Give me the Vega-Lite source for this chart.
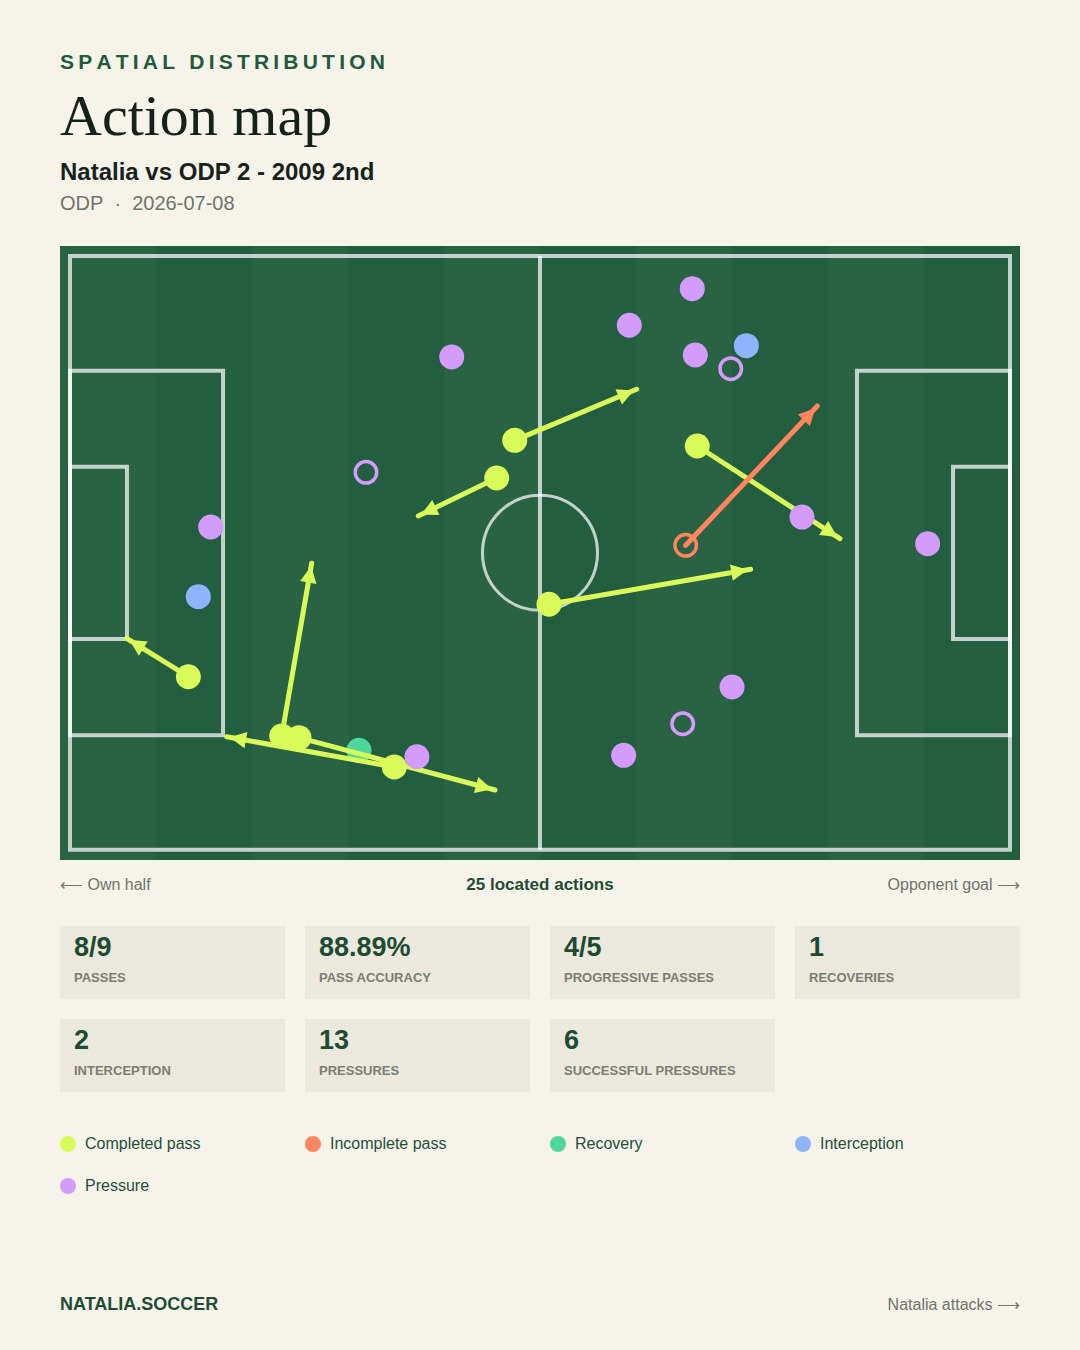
{
  "$schema": "https://vega.github.io/schema/vega-lite/v6.json",
  "background": "#f6f3eb",
  "padding": {"left": 60, "right": 60, "top": 52, "bottom": 0},
  "spacing": 0,
  "config": {"view": {"stroke": null}, "font": "Liberation Sans"},
  "title": {
    "text": "S\u2009P\u2009A\u2009T\u2009I\u2009A\u2009L\u2009 \u2009D\u2009I\u2009S\u2009T\u2009R\u2009I\u2009B\u2009U\u2009T\u2009I\u2009O\u2009N",
    "subtitle": "Action map",
    "anchor": "start",
    "frame": "group",
    "offset": 14,
    "font": "Liberation Sans",
    "fontSize": 21,
    "fontWeight": "bold",
    "color": "#1f5a3a",
    "subtitleFont": "Liberation Serif",
    "subtitleFontSize": 58,
    "subtitleFontWeight": "normal",
    "subtitleColor": "#15221a",
    "subtitlePadding": 16
  },
  "datasets": {
    "actions": [
      {"type": "Recovery", "x": 30.74, "y": 52.59, "open": false},
      {"type": "Completed pass", "x": 47.31, "y": 19.61, "x_end": 60.29, "y_end": 14.18, "angle": 67.3, "open": false},
      {"type": "Completed pass", "x": 45.39, "y": 23.62, "x_end": 37.05, "y_end": 27.66, "angle": 244.1, "open": false},
      {"type": "Completed pass", "x": 66.73, "y": 20.21, "x_end": 81.91, "y_end": 30.07, "angle": 123.0, "open": false},
      {"type": "Completed pass", "x": 50.96, "y": 37.05, "x_end": 72.41, "y_end": 33.33, "angle": 80.2, "open": false},
      {"type": "Completed pass", "x": 12.59, "y": 44.76, "x_end": 6.03, "y_end": 40.67, "angle": 301.9, "open": false},
      {"type": "Completed pass", "x": 22.52, "y": 51.06, "x_end": 25.71, "y_end": 32.69, "angle": 9.9, "open": false},
      {"type": "Completed pass", "x": 24.36, "y": 51.24, "x_end": 45.21, "y_end": 56.81, "angle": 104.9, "open": false},
      {"type": "Completed pass", "x": 34.5, "y": 54.36, "x_end": 16.67, "y_end": 51.14, "angle": 280.2, "open": false},
      {"type": "Incomplete pass", "x": 65.5, "y": 30.78, "x_end": 79.5, "y_end": 15.96, "angle": 43.4, "open": true},
      {"type": "Interception", "x": 71.95, "y": 9.54, "open": false},
      {"type": "Interception", "x": 13.65, "y": 36.24, "open": false},
      {"type": "Pressure", "x": 66.2, "y": 3.48, "open": false},
      {"type": "Pressure", "x": 59.5, "y": 7.37, "open": false},
      {"type": "Pressure", "x": 66.52, "y": 10.53, "open": false},
      {"type": "Pressure", "x": 40.61, "y": 10.74, "open": false},
      {"type": "Pressure", "x": 14.97, "y": 28.83, "open": false},
      {"type": "Pressure", "x": 77.87, "y": 27.77, "open": false},
      {"type": "Pressure", "x": 91.24, "y": 30.61, "open": false},
      {"type": "Pressure", "x": 70.43, "y": 45.85, "open": false},
      {"type": "Pressure", "x": 58.9, "y": 53.12, "open": false},
      {"type": "Pressure", "x": 36.91, "y": 53.27, "open": false},
      {"type": "Pressure", "x": 70.29, "y": 11.99, "open": true},
      {"type": "Pressure", "x": 31.49, "y": 23.01, "open": true},
      {"type": "Pressure", "x": 65.18, "y": 49.76, "open": true}
    ],
    "stats": [
      {"value": "8/9", "label": "PASSES"},
      {"value": "88.89%", "label": "PASS ACCURACY"},
      {"value": "4/5", "label": "PROGRESSIVE PASSES"},
      {"value": "1", "label": "RECOVERIES"},
      {"value": "2", "label": "INTERCEPTION"},
      {"value": "13", "label": "PRESSURES"},
      {"value": "6", "label": "SUCCESSFUL PRESSURES"}
    ],
    "legend": [
      {"label": "Completed pass"},
      {"label": "Incomplete pass"},
      {"label": "Recovery"},
      {"label": "Interception"},
      {"label": "Pressure"}
    ]
  },
  "vconcat": [
    {
      "width": 960,
      "height": 614,
      "title": {
        "text": "Natalia vs ODP 2 - 2009 2nd",
        "subtitle": "ODP\u00a0\u00a0·\u00a0\u00a02026-07-08",
        "anchor": "start",
        "frame": "group",
        "offset": 32,
        "font": "Liberation Sans",
        "fontSize": 24,
        "fontWeight": "bold",
        "color": "#17231b",
        "subtitleFont": "Liberation Sans",
        "subtitleFontSize": 20,
        "subtitleColor": "#6f756b",
        "subtitlePadding": 9
      },
      "layer": [
        {
          "data": {"values": [
            {"stripe": 1, "tone": "light"}, {"stripe": 2, "tone": "dark"},
            {"stripe": 3, "tone": "light"}, {"stripe": 4, "tone": "dark"},
            {"stripe": 5, "tone": "light"}, {"stripe": 6, "tone": "dark"},
            {"stripe": 7, "tone": "light"}, {"stripe": 8, "tone": "dark"},
            {"stripe": 9, "tone": "light"}, {"stripe": 10, "tone": "dark"}
          ]},
          "mark": {"type": "rect"},
          "encoding": {
            "x": {"field": "stripe", "type": "ordinal", "scale": {"type": "band", "paddingInner": 0, "paddingOuter": 0}, "axis": null},
            "color": {"field": "tone", "type": "nominal", "scale": {"domain": ["light", "dark"], "range": ["#2a6344", "#245e40"]}, "legend": null}
          }
        },
        {
          "layer": [
            {
              "data": {"values": [
                {"x0": 0, "x1": 100, "y0": 0, "y1": 63.16},
                {"x0": 0, "x1": 16.28, "y0": 12.2, "y1": 50.99},
                {"x0": 0, "x1": 6.06, "y0": 22.41, "y1": 40.74},
                {"x0": 83.72, "x1": 100, "y0": 12.2, "y1": 50.99},
                {"x0": 93.94, "x1": 100, "y0": 22.41, "y1": 40.74}
              ]},
              "mark": {"type": "rect", "filled": false, "stroke": "#ffffff", "strokeOpacity": 0.72, "strokeWidth": 4},
              "encoding": {
                "x": {"field": "x0", "type": "quantitative", "scale": {"domain": [-1.0638, 101.0638], "nice": false, "zero": false}, "axis": null},
                "x2": {"field": "x1"},
                "y": {"field": "y0", "type": "quantitative", "scale": {"domain": [-1.0638, 64.2553], "nice": false, "zero": false, "reverse": true}, "axis": null},
                "y2": {"field": "y1"}
              }
            },
            {
              "data": {"values": [{"x": 50, "y0": 0, "y1": 63.16}]},
              "mark": {"type": "rule", "stroke": "#ffffff", "strokeOpacity": 0.72, "strokeWidth": 4},
              "encoding": {
                "x": {"field": "x", "type": "quantitative", "scale": {"domain": [-1.0638, 101.0638], "nice": false, "zero": false}, "axis": null},
                "y": {"field": "y0", "type": "quantitative", "scale": {"domain": [-1.0638, 64.2553], "nice": false, "zero": false, "reverse": true}, "axis": null},
                "y2": {"field": "y1"}
              }
            },
            {
              "data": {"values": [{"x": 50, "y": 31.58}]},
              "mark": {"type": "point", "shape": "circle", "filled": false, "size": 13225, "stroke": "#ffffff", "strokeOpacity": 0.72, "strokeWidth": 3, "opacity": 1},
              "encoding": {
                "x": {"field": "x", "type": "quantitative", "scale": {"domain": [-1.0638, 101.0638], "nice": false, "zero": false}, "axis": null},
                "y": {"field": "y", "type": "quantitative", "scale": {"domain": [-1.0638, 64.2553], "nice": false, "zero": false, "reverse": true}, "axis": null}
              }
            },
            {
              "data": {"name": "actions"},
              "transform": [{"filter": "datum.type == 'Recovery'"}],
              "mark": {"type": "point", "shape": "circle", "filled": true, "size": 625, "opacity": 1},
              "encoding": {
                "x": {"field": "x", "type": "quantitative", "scale": {"domain": [-1.0638, 101.0638], "nice": false, "zero": false}, "axis": null},
                "y": {"field": "y", "type": "quantitative", "scale": {"domain": [-1.0638, 64.2553], "nice": false, "zero": false, "reverse": true}, "axis": null},
                "color": {"field": "type", "type": "nominal", "scale": {"domain": ["Completed pass", "Incomplete pass", "Recovery", "Interception", "Pressure"], "range": ["#d8fb5a", "#ff845f", "#4fd59e", "#8db4fd", "#d39bfa"]}, "legend": null}
              }
            },
            {
              "data": {"name": "actions"},
              "transform": [{"filter": "datum.x_end != null"}],
              "mark": {"type": "rule", "strokeWidth": 5, "strokeCap": "round"},
              "encoding": {
                "x": {"field": "x", "type": "quantitative", "scale": {"domain": [-1.0638, 101.0638], "nice": false, "zero": false}, "axis": null},
                "y": {"field": "y", "type": "quantitative", "scale": {"domain": [-1.0638, 64.2553], "nice": false, "zero": false, "reverse": true}, "axis": null},
                "x2": {"field": "x_end"},
                "y2": {"field": "y_end"},
                "color": {"field": "type", "type": "nominal", "scale": {"domain": ["Completed pass", "Incomplete pass", "Recovery", "Interception", "Pressure"], "range": ["#d8fb5a", "#ff845f", "#4fd59e", "#8db4fd", "#d39bfa"]}, "legend": null}
              }
            },
            {
              "data": {"name": "actions"},
              "transform": [{"filter": "datum.x_end != null"}],
              "mark": {"type": "point", "shape": "M0,0.5L1.4,3.3L-1.4,3.3Z", "filled": true, "size": 140, "opacity": 1},
              "encoding": {
                "x": {"field": "x_end", "type": "quantitative", "scale": {"domain": [-1.0638, 101.0638], "nice": false, "zero": false}, "axis": null},
                "y": {"field": "y_end", "type": "quantitative", "scale": {"domain": [-1.0638, 64.2553], "nice": false, "zero": false, "reverse": true}, "axis": null},
                "angle": {"field": "angle", "type": "quantitative", "scale": {"domain": [0, 360], "range": [0, 360]}},
                "color": {"field": "type", "type": "nominal", "scale": {"domain": ["Completed pass", "Incomplete pass", "Recovery", "Interception", "Pressure"], "range": ["#d8fb5a", "#ff845f", "#4fd59e", "#8db4fd", "#d39bfa"]}, "legend": null}
              }
            },
            {
              "data": {"name": "actions"},
              "transform": [{"filter": "!datum.open && datum.type != 'Recovery'"}],
              "mark": {"type": "point", "shape": "circle", "filled": true, "size": 625, "opacity": 1},
              "encoding": {
                "x": {"field": "x", "type": "quantitative", "scale": {"domain": [-1.0638, 101.0638], "nice": false, "zero": false}, "axis": null},
                "y": {"field": "y", "type": "quantitative", "scale": {"domain": [-1.0638, 64.2553], "nice": false, "zero": false, "reverse": true}, "axis": null},
                "color": {"field": "type", "type": "nominal", "scale": {"domain": ["Completed pass", "Incomplete pass", "Recovery", "Interception", "Pressure"], "range": ["#d8fb5a", "#ff845f", "#4fd59e", "#8db4fd", "#d39bfa"]}, "legend": null}
              }
            },
            {
              "data": {"name": "actions"},
              "transform": [{"filter": "datum.open"}],
              "mark": {"type": "point", "shape": "circle", "filled": false, "size": 462, "strokeWidth": 3.5, "opacity": 1},
              "encoding": {
                "x": {"field": "x", "type": "quantitative", "scale": {"domain": [-1.0638, 101.0638], "nice": false, "zero": false}, "axis": null},
                "y": {"field": "y", "type": "quantitative", "scale": {"domain": [-1.0638, 64.2553], "nice": false, "zero": false, "reverse": true}, "axis": null},
                "color": {"field": "type", "type": "nominal", "scale": {"domain": ["Completed pass", "Incomplete pass", "Recovery", "Interception", "Pressure"], "range": ["#d8fb5a", "#ff845f", "#4fd59e", "#8db4fd", "#d39bfa"]}, "legend": null}
              }
            }
          ]
        }
      ],
      "resolve": {"scale": {"x": "independent", "color": "independent"}}
    },
    {
      "width": 960,
      "height": 66,
      "data": {"values": [
        {"text": "⟵ Own half", "pos": "left"},
        {"text": "25 located actions", "pos": "center"},
        {"text": "Opponent goal ⟶", "pos": "right"}
      ]},
      "layer": [
        {
          "transform": [{"filter": "datum.pos == 'left'"}],
          "mark": {"type": "text", "align": "left", "baseline": "middle", "dy": -8, "fontSize": 16, "color": "#6f756b"},
          "encoding": {"x": {"value": 0}, "text": {"field": "text"}}
        },
        {
          "transform": [{"filter": "datum.pos == 'center'"}],
          "mark": {"type": "text", "align": "center", "baseline": "middle", "dy": -8, "fontSize": 17, "fontWeight": "bold", "color": "#1f4d33"},
          "encoding": {"text": {"field": "text"}}
        },
        {
          "transform": [{"filter": "datum.pos == 'right'"}],
          "mark": {"type": "text", "align": "right", "baseline": "middle", "dy": -8, "fontSize": 16, "color": "#6f756b"},
          "encoding": {"x": {"value": "width"}, "text": {"field": "text"}}
        }
      ]
    },
    {
      "spacing": 41,
      "vconcat": [
        {
          "data": {"name": "stats"},
          "columns": 4,
          "spacing": 20,
          "concat": [
            {"width": 225, "height": 73, "view": {"fill": "#ebe8dd", "stroke": null}, "transform": [{"filter": "datum.label == 'PASSES'"}],
             "layer": [
              {"mark": {"type": "text", "align": "left", "baseline": "middle", "fontSize": 27, "fontWeight": "bold", "color": "#1e4b32"}, "encoding": {"x": {"value": 14}, "y": {"value": 22}, "text": {"field": "value"}}},
              {"mark": {"type": "text", "align": "left", "baseline": "middle", "fontSize": 13, "fontWeight": "bold", "color": "#7b7e74"}, "encoding": {"x": {"value": 14}, "y": {"value": 52}, "text": {"field": "label"}}}
             ]},
            {"width": 225, "height": 73, "view": {"fill": "#ebe8dd", "stroke": null}, "transform": [{"filter": "datum.label == 'PASS ACCURACY'"}],
             "layer": [
              {"mark": {"type": "text", "align": "left", "baseline": "middle", "fontSize": 27, "fontWeight": "bold", "color": "#1e4b32"}, "encoding": {"x": {"value": 14}, "y": {"value": 22}, "text": {"field": "value"}}},
              {"mark": {"type": "text", "align": "left", "baseline": "middle", "fontSize": 13, "fontWeight": "bold", "color": "#7b7e74"}, "encoding": {"x": {"value": 14}, "y": {"value": 52}, "text": {"field": "label"}}}
             ]},
            {"width": 225, "height": 73, "view": {"fill": "#ebe8dd", "stroke": null}, "transform": [{"filter": "datum.label == 'PROGRESSIVE PASSES'"}],
             "layer": [
              {"mark": {"type": "text", "align": "left", "baseline": "middle", "fontSize": 27, "fontWeight": "bold", "color": "#1e4b32"}, "encoding": {"x": {"value": 14}, "y": {"value": 22}, "text": {"field": "value"}}},
              {"mark": {"type": "text", "align": "left", "baseline": "middle", "fontSize": 13, "fontWeight": "bold", "color": "#7b7e74"}, "encoding": {"x": {"value": 14}, "y": {"value": 52}, "text": {"field": "label"}}}
             ]},
            {"width": 225, "height": 73, "view": {"fill": "#ebe8dd", "stroke": null}, "transform": [{"filter": "datum.label == 'RECOVERIES'"}],
             "layer": [
              {"mark": {"type": "text", "align": "left", "baseline": "middle", "fontSize": 27, "fontWeight": "bold", "color": "#1e4b32"}, "encoding": {"x": {"value": 14}, "y": {"value": 22}, "text": {"field": "value"}}},
              {"mark": {"type": "text", "align": "left", "baseline": "middle", "fontSize": 13, "fontWeight": "bold", "color": "#7b7e74"}, "encoding": {"x": {"value": 14}, "y": {"value": 52}, "text": {"field": "label"}}}
             ]},
            {"width": 225, "height": 73, "view": {"fill": "#ebe8dd", "stroke": null}, "transform": [{"filter": "datum.label == 'INTERCEPTION'"}],
             "layer": [
              {"mark": {"type": "text", "align": "left", "baseline": "middle", "fontSize": 27, "fontWeight": "bold", "color": "#1e4b32"}, "encoding": {"x": {"value": 14}, "y": {"value": 22}, "text": {"field": "value"}}},
              {"mark": {"type": "text", "align": "left", "baseline": "middle", "fontSize": 13, "fontWeight": "bold", "color": "#7b7e74"}, "encoding": {"x": {"value": 14}, "y": {"value": 52}, "text": {"field": "label"}}}
             ]},
            {"width": 225, "height": 73, "view": {"fill": "#ebe8dd", "stroke": null}, "transform": [{"filter": "datum.label == 'PRESSURES'"}],
             "layer": [
              {"mark": {"type": "text", "align": "left", "baseline": "middle", "fontSize": 27, "fontWeight": "bold", "color": "#1e4b32"}, "encoding": {"x": {"value": 14}, "y": {"value": 22}, "text": {"field": "value"}}},
              {"mark": {"type": "text", "align": "left", "baseline": "middle", "fontSize": 13, "fontWeight": "bold", "color": "#7b7e74"}, "encoding": {"x": {"value": 14}, "y": {"value": 52}, "text": {"field": "label"}}}
             ]},
            {"width": 225, "height": 73, "view": {"fill": "#ebe8dd", "stroke": null}, "transform": [{"filter": "datum.label == 'SUCCESSFUL PRESSURES'"}],
             "layer": [
              {"mark": {"type": "text", "align": "left", "baseline": "middle", "fontSize": 27, "fontWeight": "bold", "color": "#1e4b32"}, "encoding": {"x": {"value": 14}, "y": {"value": 22}, "text": {"field": "value"}}},
              {"mark": {"type": "text", "align": "left", "baseline": "middle", "fontSize": 13, "fontWeight": "bold", "color": "#7b7e74"}, "encoding": {"x": {"value": 14}, "y": {"value": 52}, "text": {"field": "label"}}}
             ]}
          ]
        },
        {
          "data": {"name": "legend"},
          "columns": 4,
          "spacing": 20,
          "concat": [
            {"width": 225, "height": 22, "transform": [{"filter": "datum.label == 'Completed pass'"}],
             "layer": [
              {"mark": {"type": "point", "shape": "circle", "filled": true, "size": 256, "opacity": 1}, "encoding": {"x": {"value": 8}, "color": {"field": "label", "type": "nominal", "scale": {"domain": ["Completed pass", "Incomplete pass", "Recovery", "Interception", "Pressure"], "range": ["#d8fb5a", "#ff845f", "#4fd59e", "#8db4fd", "#d39bfa"]}, "legend": null}}},
              {"mark": {"type": "text", "align": "left", "baseline": "middle", "fontSize": 16, "color": "#24503a"}, "encoding": {"x": {"value": 25}, "text": {"field": "label"}}}
             ]},
            {"width": 225, "height": 22, "transform": [{"filter": "datum.label == 'Incomplete pass'"}],
             "layer": [
              {"mark": {"type": "point", "shape": "circle", "filled": true, "size": 256, "opacity": 1}, "encoding": {"x": {"value": 8}, "color": {"field": "label", "type": "nominal", "scale": {"domain": ["Completed pass", "Incomplete pass", "Recovery", "Interception", "Pressure"], "range": ["#d8fb5a", "#ff845f", "#4fd59e", "#8db4fd", "#d39bfa"]}, "legend": null}}},
              {"mark": {"type": "text", "align": "left", "baseline": "middle", "fontSize": 16, "color": "#24503a"}, "encoding": {"x": {"value": 25}, "text": {"field": "label"}}}
             ]},
            {"width": 225, "height": 22, "transform": [{"filter": "datum.label == 'Recovery'"}],
             "layer": [
              {"mark": {"type": "point", "shape": "circle", "filled": true, "size": 256, "opacity": 1}, "encoding": {"x": {"value": 8}, "color": {"field": "label", "type": "nominal", "scale": {"domain": ["Completed pass", "Incomplete pass", "Recovery", "Interception", "Pressure"], "range": ["#d8fb5a", "#ff845f", "#4fd59e", "#8db4fd", "#d39bfa"]}, "legend": null}}},
              {"mark": {"type": "text", "align": "left", "baseline": "middle", "fontSize": 16, "color": "#24503a"}, "encoding": {"x": {"value": 25}, "text": {"field": "label"}}}
             ]},
            {"width": 225, "height": 22, "transform": [{"filter": "datum.label == 'Interception'"}],
             "layer": [
              {"mark": {"type": "point", "shape": "circle", "filled": true, "size": 256, "opacity": 1}, "encoding": {"x": {"value": 8}, "color": {"field": "label", "type": "nominal", "scale": {"domain": ["Completed pass", "Incomplete pass", "Recovery", "Interception", "Pressure"], "range": ["#d8fb5a", "#ff845f", "#4fd59e", "#8db4fd", "#d39bfa"]}, "legend": null}}},
              {"mark": {"type": "text", "align": "left", "baseline": "middle", "fontSize": 16, "color": "#24503a"}, "encoding": {"x": {"value": 25}, "text": {"field": "label"}}}
             ]},
            {"width": 225, "height": 22, "transform": [{"filter": "datum.label == 'Pressure'"}],
             "layer": [
              {"mark": {"type": "point", "shape": "circle", "filled": true, "size": 256, "opacity": 1}, "encoding": {"x": {"value": 8}, "color": {"field": "label", "type": "nominal", "scale": {"domain": ["Completed pass", "Incomplete pass", "Recovery", "Interception", "Pressure"], "range": ["#d8fb5a", "#ff845f", "#4fd59e", "#8db4fd", "#d39bfa"]}, "legend": null}}},
              {"mark": {"type": "text", "align": "left", "baseline": "middle", "fontSize": 16, "color": "#24503a"}, "encoding": {"x": {"value": 25}, "text": {"field": "label"}}}
             ]}
          ]
        }
      ]
    },
    {
      "width": 960,
      "height": 154,
      "data": {"values": [
        {"text": "NATALIA.SOCCER", "pos": "left"},
        {"text": "Natalia attacks ⟶", "pos": "right"}
      ]},
      "layer": [
        {
          "transform": [{"filter": "datum.pos == 'left'"}],
          "mark": {"type": "text", "align": "left", "baseline": "middle", "dy": 31, "fontSize": 18, "fontWeight": "bold", "color": "#1f4d33"},
          "encoding": {"x": {"value": 0}, "text": {"field": "text"}}
        },
        {
          "transform": [{"filter": "datum.pos == 'right'"}],
          "mark": {"type": "text", "align": "right", "baseline": "middle", "dy": 31, "fontSize": 16, "color": "#6f756b"},
          "encoding": {"x": {"value": "width"}, "text": {"field": "text"}}
        }
      ]
    }
  ]
}
